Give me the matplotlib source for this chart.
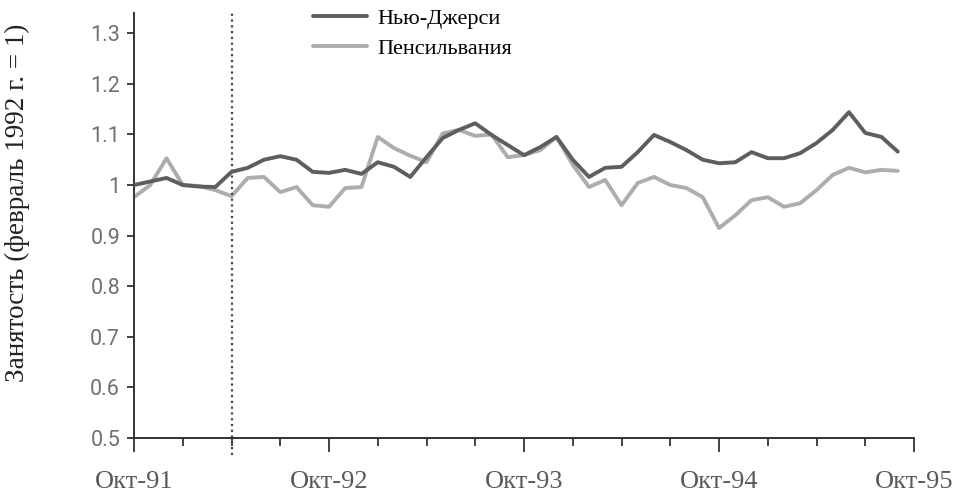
import matplotlib
matplotlib.use('Agg')
import matplotlib.pyplot as plt
from matplotlib.ticker import MultipleLocator

# Месяцы от октября 1991 (0) до сентября 1995 (47)
months = list(range(48))

# Занятость, Нью-Джерси (февраль 1992 = 1)
nj = [1.000, 1.007, 1.014, 1.000, 0.997, 0.996, 1.026, 1.034, 1.050, 1.057,
      1.050, 1.026, 1.024, 1.030, 1.022, 1.045, 1.036, 1.016, 1.055, 1.093,
      1.109, 1.122, 1.099, 1.079, 1.059, 1.075, 1.095, 1.050, 1.016, 1.034,
      1.036, 1.065, 1.099, 1.085, 1.069, 1.050, 1.043, 1.045, 1.065, 1.053,
      1.053, 1.063, 1.083, 1.109, 1.144, 1.103, 1.095, 1.066]

# Занятость, Пенсильвания
pa = [0.976, 1.000, 1.053, 1.000, 0.998, 0.990, 0.978, 1.014, 1.016, 0.986,
      0.996, 0.960, 0.957, 0.994, 0.996, 1.095, 1.073, 1.058, 1.045, 1.102,
      1.109, 1.097, 1.100, 1.055, 1.059, 1.069, 1.095, 1.040, 0.996, 1.010,
      0.960, 1.004, 1.016, 1.000, 0.994, 0.976, 0.915, 0.940, 0.970, 0.976,
      0.957, 0.964, 0.990, 1.020, 1.034, 1.025, 1.030, 1.028]

tick_pos = [0, 12, 24, 36, 48]
tick_labels = ['Окт-91', 'Окт-92', 'Окт-93', 'Окт-94', 'Окт-95']
y_ticks = [0.5, 0.6, 0.7, 0.8, 0.9, 1.0, 1.1, 1.2, 1.3]
y_labels = ['0.5', '0.6', '0.7', '0.8', '0.9', '1', '1.1', '1.2', '1.3']
event_month = 6  # апрель 1992

serif = ['Liberation Serif', 'DejaVu Serif']

fig = plt.figure(figsize=(9.56, 4.98), dpi=100)
ax = fig.add_axes([134 / 956, 1 - 438 / 498, 780 / 956, 425 / 498])

ax.plot(months, nj, color='#5e5e5e', lw=2.8, solid_joinstyle='round',
        solid_capstyle='round', label='Нью-Джерси', zorder=3)
ax.plot(months, pa, color='#adadad', lw=2.8, solid_joinstyle='round',
        solid_capstyle='round', label='Пенсильвания', zorder=2)

# вертикальная пунктирная линия (повышение минимальной зарплаты)
ax.axvline(event_month, ymin=-0.04, ymax=1, color='#444444', lw=1.6,
           linestyle=(0, (1, 1.6)), clip_on=False)

ax.set_xlim(0, 48)
ax.set_ylim(0.5, 1.34)

for s in ['top', 'right']:
    ax.spines[s].set_visible(False)
for s in ['left', 'bottom']:
    ax.spines[s].set_color('#333333')
    ax.spines[s].set_linewidth(1.4)

ax.set_xticks(tick_pos)
ax.set_xticklabels(tick_labels, family=serif, fontsize=19, color='#5a5a5a')
ax.xaxis.set_minor_locator(MultipleLocator(3))
ax.tick_params(axis='x', which='major', length=10, width=1.3,
               color='#333333', pad=14)
ax.tick_params(axis='x', which='minor', length=6, width=1.3,
               color='#333333')

ax.set_yticks(y_ticks)
ax.set_yticklabels(y_labels, family=['Roboto', 'DejaVu Sans'],
                   fontsize=15.5, color='#707070')
ax.tick_params(axis='y', length=5, width=1.3, color='#333333', pad=5)

fig.text(17 / 956, 1 - 203 / 498, 'Занятость (февраль 1992 г. = 1)',
         rotation=90, ha='center', va='center', family=serif,
         fontsize=19.5, color='#222222')

ax.legend(loc='upper left', bbox_to_anchor=(313 / 956, 1 - 8 / 498),
          bbox_transform=fig.transFigure, frameon=False,
          prop={'family': serif, 'size': 16}, handlelength=2.45,
          handletextpad=0.45, labelspacing=0.45, borderpad=0,
          borderaxespad=0)

fig.savefig('out.png', dpi=100)
